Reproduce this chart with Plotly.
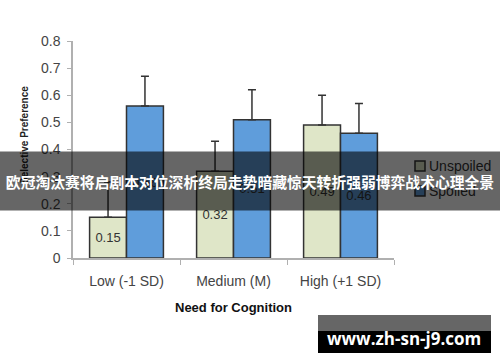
import plotly.graph_objects as go

categories = ["Low (-1 SD)", "Medium (M)", "High (+1 SD)"]
unspoiled = [0.15, 0.32, 0.49]
unspoiled_err = [0.13, 0.11, 0.11]
spoiled = [0.56, 0.51, 0.46]
spoiled_err = [0.11, 0.11, 0.11]
y_ticks = [0, 0.1, 0.2, 0.3, 0.4, 0.5, 0.6, 0.7, 0.8]
y_tick_text = ["0", "0.1", "0.2", "0.3", "0.4", "0.5", "0.6", "0.7", "0.8"]
series_names = ["Unspoiled", "Spoiled"]
series_colors = ["#dfe6c8", "#5f9ddb"]
banner_text = "欧冠淘汰赛将启剧本对位深析终局走势暗藏惊天转折强弱博弈战术心理全景"
watermark_text = "www.zh-sn-j9.com"

FONT = "Liberation Sans, Arial, sans-serif"
L, R, T, B = 73, 394, 41, 258  # plot area in pixels
PW, PH = R - L, B - T


def px(x):
    return (x - L) / PW


def py(y):
    return (B - y) / PH


fig = go.Figure()
for name, vals, errs, col in [(series_names[0], unspoiled, unspoiled_err, series_colors[0]),
                              (series_names[1], spoiled, spoiled_err, series_colors[1])]:
    fig.add_trace(go.Bar(
        x=categories, y=vals, name=name, showlegend=False,
        marker=dict(color=col, line=dict(color="#333333", width=1.5)),
        error_y=dict(type="data", array=errs, symmetric=False, arrayminus=[0] * len(errs),
                     color="#333333", thickness=1.5, width=4),
        texttemplate="%{y:.2f}", textposition="inside", insidetextanchor="middle",
        textangle=0, textfont=dict(size=13, color="#333333", family=FONT),
    ))

fig.update_layout(
    width=500, height=362,
    margin=dict(l=L, r=500 - R, t=T, b=362 - B, autoexpand=False),
    paper_bgcolor="white", plot_bgcolor="white",
    barmode="group", bargap=0.31, bargroupgap=0,
    font=dict(family=FONT, color="#444444", size=14),
    showlegend=False,
    xaxis=dict(showline=True, linecolor="#b0b0b0", linewidth=1.5, automargin=False,
               ticks="outside", tickson="boundaries", ticklen=5, tickcolor="#b0b0b0",
               tickfont=dict(size=14, color="#444444"), showgrid=False,
               ticklabelstandoff=9,
               title=dict(text="<b>Need for Cognition</b>", font=dict(size=13, color="#111111"),
                          standoff=15)),
    yaxis=dict(range=[0, 0.8], tickvals=y_ticks, ticktext=y_tick_text, showline=True,
               linecolor="#b0b0b0", automargin=False,
               linewidth=1.5, ticks="outside", ticklen=4, tickcolor="#b0b0b0",
               tickfont=dict(size=14, color="#444444"), showgrid=False, zeroline=False,
               ticklabelstandoff=4),
)

fig.add_annotation(xref="paper", yref="paper", x=px(24), y=py(135), xanchor="center",
                   yanchor="middle", text="<b>Selective Preference</b>",
                   textangle=-90, showarrow=False, font=dict(size=10, color="#222222"))

# legend (drawn manually so that the banner overlays it as in the reference)
for i, (name, col) in enumerate(zip(series_names, series_colors)):
    yc = 166 + i * 25
    fig.add_shape(type="rect", xref="paper", yref="paper", x0=px(415), x1=px(425),
                  y0=py(yc + 5), y1=py(yc - 5), fillcolor=col,
                  line=dict(color="#333333", width=1.5))
    fig.add_annotation(xref="paper", yref="paper", x=px(427), y=py(yc), xanchor="left",
                       yanchor="middle", text=name, showarrow=False,
                       font=dict(size=14, color="#333333", family=FONT))

# banner overlay
fig.add_annotation(xref="paper", yref="paper", x=px(250), y=py(181), xanchor="center",
                   yanchor="middle",
                   text="<b>" + banner_text + "</b>", showarrow=False,
                   width=500, height=58, bgcolor="rgba(0,0,0,0.6)", borderpad=0,
                   font=dict(size=14.8, color="white", family="Noto Sans CJK SC"))

# watermark
fig.add_shape(type="rect", xref="paper", yref="paper", x0=px(318), x1=px(491),
              y0=py(331), y1=py(315), fillcolor="#666666", line=dict(width=0))
fig.add_shape(type="rect", xref="paper", yref="paper", x0=px(318), x1=px(491),
              y0=py(353), y1=py(331), fillcolor="black", line=dict(width=0))
fig.add_annotation(xref="paper", yref="paper", x=px(404), y=py(338), xanchor="center",
                   yanchor="middle",
                   text="<b>" + watermark_text + "</b>", showarrow=False,
                   font=dict(size=17, color="white", family="Open Sans"))

fig.write_html("out.html", config={"displayModeBar": False},
               post_script="document.body.style.margin='0';")
